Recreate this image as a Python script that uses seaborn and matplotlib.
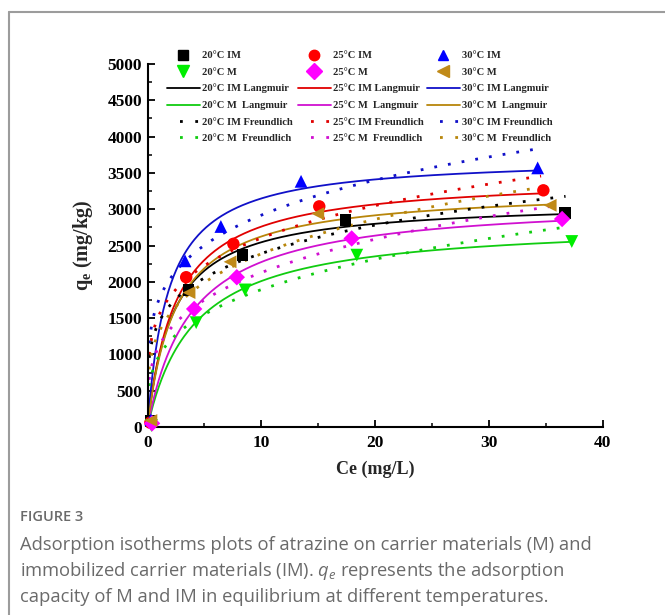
import numpy as np
import pandas as pd
import seaborn as sns
import matplotlib
matplotlib.use("Agg")
import matplotlib.pyplot as plt
from matplotlib.lines import Line2D
from matplotlib.ticker import MultipleLocator

# ---------------- measured isotherm points (Ce in mg/L, qe in mg/kg) ----------------
series = ["20°C IM", "25°C IM", "30°C IM", "20°C M", "25°C M", "30°C M"]

ce_20im = [0.30, 3.60, 8.35, 17.40, 36.70]
qe_20im = [80, 1888, 2371, 2855, 2947]
ce_25im = [0.25, 3.40, 7.55, 15.10, 34.80]
qe_25im = [60, 2063, 2523, 3039, 3260]
ce_30im = [0.30, 3.30, 6.45, 13.50, 34.30]
qe_30im = [100, 2289, 2762, 3384, 3569]
ce_20m = [0.35, 4.28, 8.58, 18.40, 37.30]
qe_20m = [20, 1437, 1888, 2367, 2555]
ce_25m = [0.40, 4.10, 7.85, 17.95, 36.45]
qe_25m = [50, 1626, 2063, 2597, 2865]
ce_30m = [0.30, 3.65, 7.26, 14.97, 35.40]
qe_30m = [90, 1851, 2275, 2938, 3053]

# ---------------- fitted model parameters ----------------
# Langmuir: qe = qm * KL * Ce / (1 + KL * Ce)
langmuir_qm = [3110, 3450, 3720, 2830, 3139, 3280]
langmuir_kl = [0.45, 0.40, 0.55, 0.245, 0.262, 0.40]
langmuir_cmax = [36.7, 34.8, 34.3, 37.3, 36.45, 35.4]
# Freundlich: qe = KF * Ce^(1/n)
freundlich_kf = [1443, 1538, 1754, 975, 1111, 1305]
freundlich_inv_n = [0.219, 0.2285, 0.221, 0.288, 0.282, 0.262]
freundlich_cmax = [36.75, 34.6, 34.2, 36.75, 36.3, 35.1]

marker_colors = ["#000000", "#ff0000", "#0000ff", "#00ee00", "#ff00ff", "#c08a18"]
line_colors = ["#000000", "#e00000", "#1010c8", "#10cc10", "#d010d0", "#b8860b"]
markers = ["s", "o", "^", "v", "D", "<"]
marker_sizes = [70, 80, 85, 85, 70, 85]

ce_all = [ce_20im, ce_25im, ce_30im, ce_20m, ce_25m, ce_30m]
qe_all = [qe_20im, qe_25im, qe_30im, qe_20m, qe_25m, qe_30m]

points = pd.concat(
    [pd.DataFrame({"Ce": c, "qe": q, "series": s}) for c, q, s in zip(ce_all, qe_all, series)],
    ignore_index=True,
)

lang_rows, freu_rows = [], []
for s, qm, kl, cm in zip(series, langmuir_qm, langmuir_kl, langmuir_cmax):
    c = np.linspace(0, cm, 300)
    lang_rows.append(pd.DataFrame({"Ce": c, "qe": qm * kl * c / (1 + kl * c), "series": s}))
for s, kf, invn, cm in zip(series, freundlich_kf, freundlich_inv_n, freundlich_cmax):
    c = np.linspace(0.15, cm, 300)
    freu_rows.append(pd.DataFrame({"Ce": c, "qe": kf * c ** invn, "series": s}))
langmuir = pd.concat(lang_rows, ignore_index=True)
freundlich = pd.concat(freu_rows, ignore_index=True)

# ---------------- styling ----------------
sns.set_theme(style="white")
plt.rcParams["font.family"] = ["Liberation Serif", "DejaVu Serif"]
plt.rcParams["mathtext.fontset"] = "custom"
plt.rcParams["mathtext.bf"] = "Liberation Serif:bold"
plt.rcParams["mathtext.rm"] = "Open Sans"
plt.rcParams["mathtext.it"] = "Open Sans:italic"

W, H = 665, 615
fig = plt.figure(figsize=(W / 100, H / 100), dpi=100)
fig.patch.set_facecolor("white")
ax = fig.add_axes([147.5 / W, 1 - 427 / H, (602.5 - 147.5) / W, (427 - 64) / H])
ax.set_facecolor("white")

dot_style = (0, (1, 4))
sns.lineplot(data=langmuir, x="Ce", y="qe", hue="series", hue_order=series,
             palette=line_colors, sort=False, estimator=None, lw=1.3,
             legend=False, ax=ax)
sns.lineplot(data=freundlich, x="Ce", y="qe", hue="series", hue_order=series,
             palette=line_colors, sort=False, estimator=None, lw=2.0,
             linestyle=dot_style, legend=False, ax=ax)
for s, col, mk, sz in zip(series, marker_colors, markers, marker_sizes):
    sns.scatterplot(data=points[points["series"] == s], x="Ce", y="qe", color=col,
                    marker=mk, s=sz, edgecolor="none", legend=False, ax=ax,
                    clip_on=False, zorder=5)

ax.set_xlim(0, 40)
ax.set_ylim(0, 5000)
ax.xaxis.set_major_locator(MultipleLocator(10))
ax.xaxis.set_minor_locator(MultipleLocator(5))
ax.yaxis.set_major_locator(MultipleLocator(500))
ax.yaxis.set_minor_locator(MultipleLocator(250))
for side in ["top", "right"]:
    ax.spines[side].set_visible(False)
for side in ["left", "bottom"]:
    ax.spines[side].set_linewidth(1.5)
    ax.spines[side].set_color("black")
ax.tick_params(which="major", direction="in", length=5, width=1.3, colors="black",
               labelsize=12.5, pad=4, left=True, bottom=True)
ax.tick_params(axis="x", which="major", pad=6)
ax.tick_params(which="minor", direction="in", length=3, width=1.1, colors="black",
               left=True, bottom=True)
for lbl in ax.get_xticklabels() + ax.get_yticklabels():
    lbl.set_fontweight("bold")

ax.set_xlabel("Ce (mg/L)", fontsize=13, fontweight="bold", labelpad=7)
ax.set_ylabel(r"$\mathbf{q_e}$ (mg/kg)", fontsize=14.5, fontweight="bold", labelpad=9)

# ---------------- legend: three columns, one per temperature ----------------
col_x = [167, 298, 427]
groups = [(0, 3), (1, 4), (2, 5)]
for (i_im, i_m), x0 in zip(groups, col_x):
    handles = [
        Line2D([], [], ls="none", marker=markers[i_im], color=marker_colors[i_im], ms=7.5),
        Line2D([], [], ls="none", marker=markers[i_m], color=marker_colors[i_m], ms=8),
        Line2D([], [], color=line_colors[i_im], lw=1.3),
        Line2D([], [], color=line_colors[i_m], lw=1.3),
        Line2D([], [], color=line_colors[i_im], lw=2.0, ls=(1, (1, 4.5))),
        Line2D([], [], color=line_colors[i_m], lw=2.0, ls=(1, (1, 4.5))),
    ]
    t_im, t_m = series[i_im], series[i_m]
    labels = [t_im, t_m, f"{t_im} Langmuir", f"{t_m}  Langmuir",
              f"{t_im} Freundlich", f"{t_m}  Freundlich"]
    leg = fig.legend(handles, labels, loc="upper left",
                     bbox_to_anchor=(x0 / W, 1 - 51 / H), bbox_transform=fig.transFigure,
                     frameon=False, fontsize=7.6, handlelength=3.1, handletextpad=0.25,
                     labelspacing=0.66, borderpad=0, borderaxespad=0)
    for t in leg.get_texts():
        t.set_fontweight("bold")

# ---------------- panel frame and caption ----------------
frame_col = "#9c9c9c"
fig.add_artist(Line2D([8.5 / W, 8.5 / W], [0, 1 - 12 / H], transform=fig.transFigure,
                      color=frame_col, lw=1.5))
fig.add_artist(Line2D([8.5 / W, 1], [1 - 12 / H, 1 - 12 / H], transform=fig.transFigure,
                      color=frame_col, lw=1.5))

cap_col = "#6a6a6a"
fig.text(20 / W, 1 - 517 / H, "FIGURE 3", family="Open Sans", weight="semibold",
         fontsize=10.5, color=cap_col, va="center")
caption = [
    "Adsorption isotherms plots of atrazine on carrier materials (M) and",
    r"immobilized carrier materials (IM). $q_e$ represents the adsorption",
    "capacity of M and IM in equilibrium at different temperatures.",
]
for k, line in enumerate(caption):
    fig.text(20 / W, 1 - (545 + 26 * k) / H, line, family="Open Sans",
             fontsize=13.2, color=cap_col, va="center")

fig.savefig("out.png", dpi=100, facecolor="white")
